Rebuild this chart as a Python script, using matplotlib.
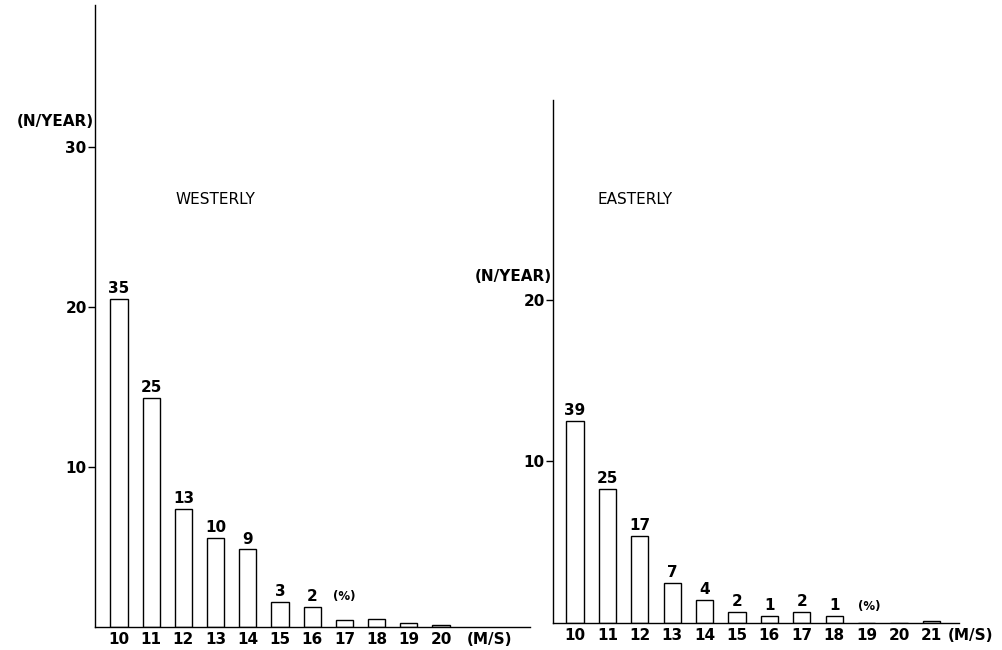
import numpy as np
import matplotlib.pyplot as plt

plt.rcParams['font.family'] = ['DejaVu Sans']

W, H = 1002, 650

# occurrences per year of strong winds, by wind speed (m/s)
west_speed = np.arange(10, 21)
west_rate = [20.5, 14.3, 7.4, 5.55, 4.85, 1.55, 1.25, 0.45, 0.5, 0.25, 0.15]
west_pct = [35, 25, 13, 10, 9, 3, 2]

east_speed = np.arange(10, 22)
east_rate = [12.5, 8.3, 5.4, 2.5, 1.45, 0.7, 0.45, 0.7, 0.45, 0.0, 0.0, 0.15]
east_pct = [39, 25, 17, 7, 4, 2, 1, 2, 1]

fig = plt.figure(figsize=(W / 100, H / 100), dpi=100)


def make_axes(px_left, px_right, px_base, px_top, px_first, px_unit, px_per_val):
    ax = fig.add_axes([px_left / W, 1 - px_base / H,
                       (px_right - px_left) / W, (px_base - px_top) / H])
    ax.set_xlim(10 - (px_first - px_left) / px_unit,
                10 + (px_right - px_first) / px_unit)
    ax.set_ylim(0, (px_base - px_top) / px_per_val)
    for s in ('top', 'right'):
        ax.spines[s].set_visible(False)
    for s in ('left', 'bottom'):
        ax.spines[s].set_linewidth(1.0)
    ax.tick_params(axis='y', direction='out', length=5, width=1.0, pad=1,
                   labelsize=11)
    ax.tick_params(axis='x', length=0, pad=3.5, labelsize=11)
    return ax


def draw(ax, speed, rate, pct, yticks, title, title_xy, unit_y, pct_xy, ms_x):
    ax.bar(speed, rate, width=0.53, facecolor='white', edgecolor='black',
           linewidth=1.0)
    for s, r, p in zip(speed, rate, pct):
        ax.annotate(str(p), xy=(s, r), xytext=(0, 2), textcoords='offset points',
                    ha='center', va='bottom', fontsize=11, fontweight='bold')
    ax.set_xticks(speed)
    ax.set_xticklabels([str(s) for s in speed], fontweight='bold')
    ax.set_yticks(yticks)
    ax.set_yticklabels([str(t) for t in yticks], fontweight='bold')
    ax.text(title_xy[0], title_xy[1], title, ha='center', va='center',
            fontsize=11)
    ax.annotate('(N/YEAR)', xy=(0, unit_y), xycoords=('axes fraction', 'data'),
                xytext=(-1, 0), textcoords='offset points', ha='right',
                va='center', fontsize=11, fontweight='bold')
    ax.text(pct_xy[0], pct_xy[1], '(%)', ha='left', va='center', fontsize=8.5,
            fontweight='bold')
    ax.annotate('(M/S)', xy=(ms_x, 0), xytext=(0, -3.5), textcoords='offset points',
                ha='center', va='top', fontsize=11, fontweight='bold',
                annotation_clip=False)


ax1 = make_axes(95, 530, 627, 5, 119, 32.2, 16.0)
draw(ax1, west_speed, west_rate, west_pct, [10, 20, 30], 'WESTERLY',
     (13.0, 26.7), 31.6, (16.65, 1.9), 21.5)

ax2 = make_axes(553, 959, 623, 100, 575, 32.4, 16.16)
draw(ax2, east_speed, east_rate, east_pct, [10, 20], 'EASTERLY',
     (11.85, 26.2), 21.45, (18.73, 1.0), 22.2)

fig.savefig('out.png', dpi=100)
